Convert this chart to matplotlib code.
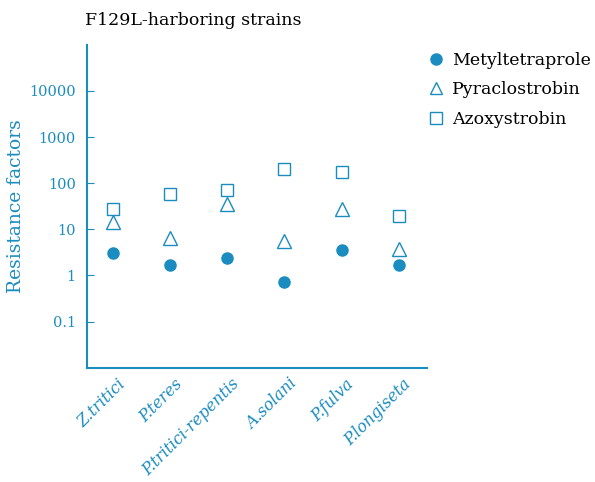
import numpy as np
import matplotlib.pyplot as plt
import matplotlib.transforms as mtransforms
from matplotlib.lines import Line2D

strains = ['Z.tritici', 'P.teres', 'P.tritici-repentis', 'A.solani', 'P.fulva', 'P.longiseta']
metyltetraprole = [3.0, 1.65, 2.4, 0.74, 3.5, 1.65]
pyraclostrobin = [14.5, 6.5, 35, 5.5, 28, 3.8]
azoxystrobin = [27, 58, 73, 200, 175, 19.5]

blue = '#1a8cc0'
plt.rcParams['font.family'] = 'DejaVu Serif'

fig = plt.figure(figsize=(5.95, 4.82), dpi=100)
ax = fig.add_axes([0.146, 0.237, 0.572, 0.670])

x = np.arange(len(strains))
ax.plot(x, metyltetraprole, 'o', color=blue, ms=8, label='Metyltetraprole')
ax.plot(x, pyraclostrobin, '^', mfc='white', mec=blue, mew=1.0, ms=10, label='Pyraclostrobin')
ax.plot(x, azoxystrobin, 's', mfc='white', mec=blue, mew=1.0, ms=9, label='Azoxystrobin')

ax.set_yscale('log')
ax.set_ylim(0.01, 1e5)
ax.set_xlim(-0.46, 5.5)
ax.set_yticks([0.1, 1, 10, 100, 1000, 10000])
ax.set_yticklabels(['0.1', '1', '10', '100', '1000', '10000'])
ax.minorticks_off()
ax.tick_params(axis='y', direction='in', length=5, color=blue, labelcolor=blue, labelsize=10.5, pad=8)
ax.set_xticks(x)
ax.set_xticklabels(strains, rotation=45, ha='right', va='center', rotation_mode='anchor',
                   style='italic', fontsize=11.5, color=blue)
ax.tick_params(axis='x', length=0, pad=10)
# nudge the slanted names a little to the right of their tick
shift = mtransforms.ScaledTranslation(10 / 100, 0, fig.dpi_scale_trans)
for lbl in ax.get_xticklabels():
    lbl.set_transform(lbl.get_transform() + shift)

for s in ['top', 'right']:
    ax.spines[s].set_visible(False)
for s in ['left', 'bottom']:
    ax.spines[s].set_color(blue)
    ax.spines[s].set_linewidth(1.5)

ax.set_ylabel('Resistance factors', color=blue, fontsize=13.5, labelpad=3)
ax.set_title('F129L-harboring strains', loc='left', fontsize=12.5, pad=14, x=-0.005)

handles = [
    Line2D([], [], marker='o', ls='none', color=blue, ms=8),
    Line2D([], [], marker='^', ls='none', mfc='white', mec=blue, ms=9),
    Line2D([], [], marker='s', ls='none', mfc='white', mec=blue, ms=8),
]
fig.legend(handles, ['Metyltetraprole', 'Pyraclostrobin', 'Azoxystrobin'],
           loc='upper left', bbox_to_anchor=(0.695, 0.925), frameon=False,
           fontsize=12.5, handlelength=0.8, handletextpad=0.5, labelspacing=0.72)

fig.savefig('out.png', dpi=100)
